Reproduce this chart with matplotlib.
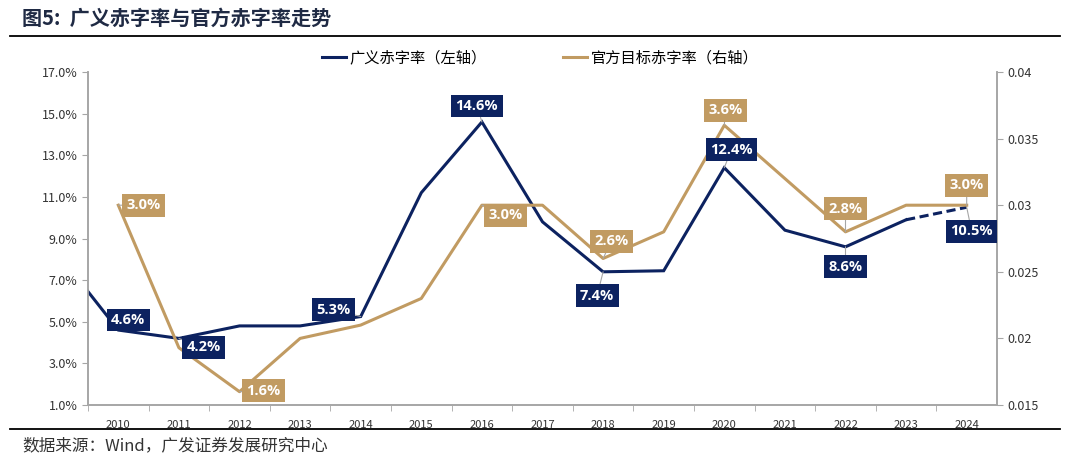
import matplotlib
matplotlib.use("Agg")
import matplotlib.pyplot as plt
from matplotlib.lines import Line2D
from matplotlib.patches import Rectangle

plt.rcParams["font.family"] = ["Noto Sans CJK SC", "DejaVu Sans"]

# %% data
years = [2009, 2010, 2011, 2012, 2013, 2014, 2015, 2016, 2017, 2018, 2019, 2020, 2021, 2022, 2023, 2024]
broad_deficit = [8.3, 4.6, 4.2, 4.8, 4.8, 5.25, 11.2, 14.6, 9.8, 7.4, 7.45, 12.4, 9.4, 8.6, 9.9, 10.5]
official_deficit = [None, 0.030, 0.0193, 0.016, 0.020, 0.021, 0.023, 0.030, 0.030, 0.026, 0.028,
                    0.036, 0.032, 0.028, 0.030, 0.030]
broad_labels = {2010: "4.6%", 2011: "4.2%", 2014: "5.3%", 2016: "14.6%", 2018: "7.4%",
                2020: "12.4%", 2022: "8.6%", 2024: "10.5%"}
official_labels = {2010: "3.0%", 2012: "1.6%", 2016: "3.0%", 2018: "2.6%", 2020: "3.6%",
                   2022: "2.8%", 2024: "3.0%"}
left_ticks = [1.0, 3.0, 5.0, 7.0, 9.0, 11.0, 13.0, 15.0, 17.0]
right_ticks = [0.015, 0.02, 0.025, 0.03, 0.035, 0.04]
right_ticklabels = ["0.015", "0.02", "0.025", "0.03", "0.035", "0.04"]

navy = "#0c2260"
gold = "#c19b62"
grey = "#a6a6a6"

# %% plot
fig = plt.figure(figsize=(10.69, 4.59), dpi=100)
ax = fig.add_axes([88 / 1069, 1 - 405 / 459, (997 - 88) / 1069, (405 - 72) / 459])
ax2 = ax.twinx()

x = list(range(len(years)))
ax.plot(x[:-1], broad_deficit[:-1], color=navy, lw=2.2, solid_joinstyle="miter", zorder=3)
ax.plot(x[-2:], broad_deficit[-2:], color=navy, lw=2.2, ls=(0, (3, 1.5)), zorder=3)
gx = [xi for xi, v in zip(x, official_deficit) if v is not None]
gy = [v for v in official_deficit if v is not None]
ax2.plot(gx, gy, color=gold, lw=2.2, zorder=3)

ax.set_xlim(0.5, len(years) - 0.5)
ax.set_ylim(1.0, 17.0)
ax2.set_ylim(0.015, 0.04)
ax.set_yticks(left_ticks)
ax.set_yticklabels([f"{v:.1f}%" for v in left_ticks])
ax2.set_yticks(right_ticks)
ax2.set_yticklabels(right_ticklabels)

ax.set_xticks(x[1:])
ax.set_xticklabels([str(y) for y in years[1:]], fontsize=8, color="#333333")
ax.set_xticks([xi + 0.5 for xi in x[:-1]], minor=True)
ax.tick_params(axis="x", which="major", length=0, pad=11)
ax.tick_params(axis="x", which="minor", length=4, color=grey, direction="out")
ax.tick_params(axis="y", length=4, color=grey, labelsize=9, labelcolor="#333333")
ax2.tick_params(axis="y", length=4, color=grey, labelsize=9, labelcolor="#333333")

for a in (ax, ax2):
    for s in a.spines.values():
        s.set_color(grey)
        s.set_linewidth(1.2)
    a.spines["top"].set_visible(False)

# data labels
def add_label(axis, xi, yv, text, face, dx, dy):
    axis.annotate(
        text, (xi, yv), xytext=(dx, dy), textcoords="offset pixels",
        ha="center", va="center", fontsize=10.5, fontweight="bold", color="white",
        family=["Open Sans", "DejaVu Sans"],
        bbox=dict(boxstyle="square,pad=0.3", fc=face, ec="none"),
        arrowprops=dict(arrowstyle="-", color=grey, lw=0.8, shrinkA=0, shrinkB=0),
        zorder=5,
    )

broad_offsets = {2010: (10, 10), 2011: (25, -9), 2014: (-27, 7), 2016: (-5, 16),
                 2018: (-6, -24), 2020: (7, 18), 2022: (0, -20), 2024: (5, -24)}
official_offsets = {2010: (25, 0), 2012: (24, 1), 2016: (24, -10), 2018: (8, 17),
                    2020: (1, 15), 2022: (0, 23), 2024: (0, 20)}
for yr, txt in broad_labels.items():
    i = years.index(yr)
    add_label(ax2, i, (broad_deficit[i] - 1.0) / 16 * 0.025 + 0.015, txt, navy, *broad_offsets[yr])
for yr, txt in official_labels.items():
    i = years.index(yr)
    add_label(ax2, i, official_deficit[i], txt, gold, *official_offsets[yr])

# legend
handles = [Line2D([], [], color=navy, lw=2.2), Line2D([], [], color=gold, lw=2.2)]
fig.legend(handles, ["广义赤字率（左轴）", "官方目标赤字率（右轴）"], loc="center",
           bbox_to_anchor=(540 / 1069, 1 - 58 / 459), ncol=2, frameon=False,
           fontsize=11, handlelength=1.6, handletextpad=0.2, columnspacing=5)

# title, rules and source
fig.text(22 / 1069, 1 - 18 / 459, "图5:  广义赤字率与官方赤字率走势", fontsize=14.5,
         fontweight="bold", color="#1f2a44", va="center", ha="left")
fig.add_artist(Line2D([10 / 1069, 1060 / 1069], [1 - 36 / 459] * 2, color="black", lw=1.3))
fig.add_artist(Rectangle((0, 0), 1, 1 - 429 / 459, transform=fig.transFigure,
                         fc="white", ec="none", zorder=10))
fig.add_artist(Line2D([10 / 1069, 1060 / 1069], [1 - 429 / 459] * 2, color="black", lw=1.3,
                      zorder=11))
fig.text(22 / 1069, 1 - 446 / 459, "数据来源：Wind，广发证券发展研究中心", fontsize=12,
         color="#333333", va="center", ha="left", zorder=12)

fig.savefig("out.png", dpi=100)
